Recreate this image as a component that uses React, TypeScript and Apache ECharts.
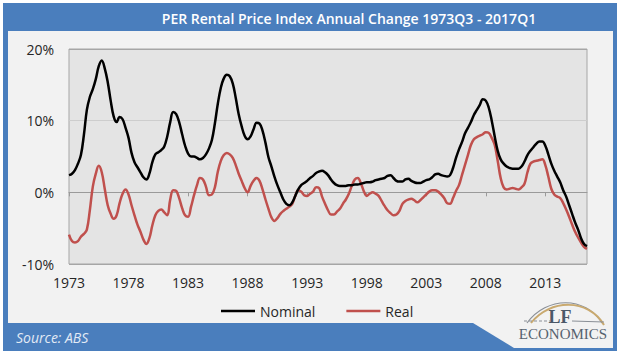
import React, { useEffect, useRef } from "react";
import * as echarts from "echarts";

const startYear = 1973;
const startQuarter = 3;
const tickLabels = ["1973", "1978", "1983", "1988", "1993", "1998", "2003", "2008", "2013"];

const nominal = [
  2.4, 2.6, 3.1, 4.0, 5.2, 8.0, 11.5, 13.3, 14.4, 15.8,
  17.6, 18.4, 17.3, 15.4, 12.8, 10.6, 9.8, 10.5, 10.2, 9.0,
  7.6, 5.5, 4.2, 3.5, 2.8, 2.1, 1.8, 2.6, 4.2, 5.3,
  5.6, 5.9, 6.4, 7.8, 9.8, 11.2, 10.9, 9.8, 8.1, 6.5,
  5.4, 5.0, 5.0, 4.8, 4.6, 4.8, 5.3, 6.1, 7.3, 9.6,
  12.4, 14.6, 15.9, 16.4, 16.2, 15.2, 13.2, 10.9, 9.2, 7.9,
  7.4, 7.8, 8.8, 9.7, 9.6, 8.6, 6.9, 4.9, 3.6, 2.2,
  1.0, 0.0, -1.0, -1.6, -1.8, -1.4, -0.5, 0.4, 1.0, 1.3,
  1.6, 2.0, 2.3, 2.7, 2.9, 3.0, 2.8, 2.4, 1.8, 1.3,
  1.0, 0.9, 0.9, 0.9, 1.0, 1.0, 1.1, 1.1, 1.2, 1.3,
  1.4, 1.4, 1.5, 1.7, 1.8, 1.9, 2.0, 2.3, 2.4, 2.0,
  1.6, 1.5, 1.5, 1.8, 1.9, 1.6, 1.4, 1.3, 1.3, 1.5,
  1.7, 1.8, 2.1, 2.5, 2.6, 2.4, 2.3, 2.2, 2.4, 3.4,
  4.8, 6.0, 7.0, 8.2, 9.0, 9.8, 10.8, 11.5, 12.2, 13.0,
  12.8, 11.8, 10.0, 7.8, 5.8, 4.6, 4.0, 3.6, 3.4, 3.3,
  3.3, 3.3, 3.6, 4.3, 5.2, 5.8, 6.3, 6.8, 7.1, 7.1,
  6.5, 5.3, 4.0, 3.0, 2.2, 1.4, 0.3, -0.6, -1.8, -3.0,
  -4.2, -5.2, -6.4, -7.2, -7.5,
];

const real = [
  -5.9, -6.8, -7.0, -6.8, -6.2, -5.8, -5.2, -2.5, 0.8, 2.6,
  3.7, 2.8, 0.5, -1.8, -3.0, -3.7, -3.2, -1.5, -0.2, 0.4,
  -0.3, -1.8, -3.2, -4.5, -5.5, -6.6, -7.2, -6.4, -4.6, -3.2,
  -2.6, -2.4, -2.8, -3.2, -1.0, 0.3, 0.2, -0.8, -2.2, -3.2,
  -3.4, -2.0, -0.4, 1.0, 2.0, 1.8, 0.8, -0.4, -0.3, 0.7,
  2.9, 4.4, 5.2, 5.5, 5.3, 4.8, 3.8, 2.6, 1.6, 0.6,
  0.0, 0.9, 1.6, 2.0, 1.6, 0.4, -1.0, -2.3, -3.5, -4.0,
  -3.6, -3.0, -2.6, -2.3, -2.0, -1.6, -0.5, 0.3, 0.1, -0.4,
  -0.5, -0.2, 0.1, 0.7, 0.6, -0.6, -1.6, -2.5, -3.1, -3.1,
  -2.7, -2.3, -1.6, -1.0, -0.2, 0.9, 1.8, 2.0, 1.3, 0.2,
  -0.5, -0.2, 0.0, -0.2, -0.5, -1.2, -1.9, -2.5, -2.9, -3.2,
  -3.1, -2.6, -1.6, -1.2, -1.0, -0.9, -1.1, -1.4, -1.1, -0.7,
  -0.3, 0.1, 0.3, 0.3, 0.1, -0.3, -0.8, -1.5, -1.6, -0.8,
  0.2, 1.0, 2.4, 3.8, 5.2, 6.6, 7.4, 7.7, 7.9, 8.1,
  8.4, 8.3, 7.6, 6.6, 4.4, 2.0, 0.7, 0.4, 0.5, 0.6,
  0.5, 0.4, 0.7, 1.2, 2.8, 4.0, 4.3, 4.4, 4.5, 4.6,
  3.8, 2.2, 0.5, -0.3, -0.6, -0.8, -1.5, -2.4, -3.4, -4.5,
  -5.5, -6.3, -7.0, -7.6, -7.9,
];

const categories: string[] = nominal.map((_, i) => {
  const q = startQuarter - 1 + i;
  return `${startYear + Math.floor(q / 4)}Q${(q % 4) + 1}`;
});

const BLUE = "#4a7ebd";
const FONT = "'Open Sans', 'Noto Sans', sans-serif";

export default function App() {
  const ref = useRef<HTMLDivElement>(null);
  useEffect(() => {
    if (!ref.current) return;
    const chart = echarts.init(ref.current, undefined, { renderer: "svg" });
    const labelFor = (v: string) => {
      const y = v.slice(0, 4);
      return tickLabels.includes(y) ? y : "";
    };
    chart.setOption({
      animation: false,
      backgroundColor: "#ffffff",
      textStyle: { fontFamily: FONT },
      grid: {
        left: 69,
        top: 49,
        width: 518,
        height: 215,
        show: true,
        backgroundColor: "#e4e4e4",
        borderColor: "#a6a6a6",
        borderWidth: 1,
      },
      legend: {
        data: ["Nominal", "Real"],
        left: 216,
        top: 299,
        icon: "rect",
        itemWidth: 34,
        itemHeight: 2.5,
        itemGap: 31,
        textStyle: { fontSize: 14, color: "#262626", fontFamily: FONT },
      },
      xAxis: [
        {
          type: "category",
          data: categories,
          boundaryGap: false,
          axisLine: { show: false, onZero: false },
          axisTick: { show: false },
          splitLine: { show: false },
          axisLabel: {
            interval: 19,
            formatter: labelFor,
            fontSize: 14,
            color: "#262626",
            margin: 11,
            fontFamily: FONT,
          },
        },
        {
          type: "category",
          data: categories,
          boundaryGap: false,
          position: "bottom",
          axisLine: { show: true, onZero: true, lineStyle: { color: "#9a9a9a", width: 1 } },
          axisTick: { show: true, interval: 19, length: 4, lineStyle: { color: "#9a9a9a" } },
          axisLabel: { show: false },
          splitLine: { show: false },
        },
      ],
      yAxis: {
        type: "value",
        min: -10,
        max: 20,
        interval: 10,
        axisLine: { show: false },
        axisTick: { show: false },
        axisLabel: {
          formatter: "{value}%",
          fontSize: 14,
          color: "#262626",
          margin: 15,
          fontFamily: FONT,
        },
        splitLine: {
          show: true,
          lineStyle: { color: ["#a6a6a6", "#9a9a9a", "#cdcdcd", "#a6a6a6"], width: 1 },
        },
      },
      series: [
        {
          name: "Nominal",
          type: "line",
          data: nominal,
          xAxisIndex: 0,
          symbol: "none",
          smooth: 0.4,
          lineStyle: { color: "#000000", width: 2.5 },
          itemStyle: { color: "#000000" },
          z: 3,
        },
        {
          name: "Real",
          type: "line",
          data: real,
          xAxisIndex: 0,
          symbol: "none",
          smooth: 0.4,
          lineStyle: { color: "#c0504d", width: 2.5 },
          itemStyle: { color: "#c0504d" },
          z: 2,
        },
      ],
      graphic: [
        { type: "rect", z: -20, shape: { x: 3, y: 3, width: 614, height: 348 }, style: { fill: BLUE } },
        { type: "rect", z: -19, shape: { x: 8, y: 31, width: 605, height: 317 }, style: { fill: "#f2f2f2" } },
        {
          type: "polygon",
          z: -18,
          shape: { points: [[8, 323], [473, 323], [514, 348], [8, 348]] },
          style: { fill: BLUE },
        },
        {
          type: "text",
          z: 10,
          x: 349,
          y: 18,
          style: {
            text: "PER Rental Price Index Annual Change 1973Q3 - 2017Q1",
            fill: "#ffffff",
            fontSize: 14,
            fontWeight: 600,
            fontFamily: FONT,
            textAlign: "center",
            textVerticalAlign: "middle",
          },
        },
        {
          type: "text",
          z: 10,
          x: 16,
          y: 337,
          style: {
            text: "Source: ABS",
            fill: "#e2eaf5",
            fontSize: 14,
            fontStyle: "italic",
            fontFamily: FONT,
            textAlign: "left",
            textVerticalAlign: "middle",
          },
        },
        {
          type: "bezierCurve",
          z: 10,
          shape: { x1: 527, y1: 323, x2: 602, y2: 323, cpx1: 547, cpy1: 296, cpx2: 585, cpy2: 296 },
          style: { stroke: "#8a8f96", lineWidth: 1.2, fill: null },
        },
        {
          type: "bezierCurve",
          z: 10,
          shape: { x1: 531, y1: 323, x2: 604, y2: 325, cpx1: 550, cpy1: 299, cpx2: 588, cpy2: 298 },
          style: { stroke: "#c9a96e", lineWidth: 2, fill: null },
        },
        {
          type: "line",
          z: 10,
          shape: { x1: 524, y1: 321, x2: 550, y2: 321 },
          style: { stroke: "#8a8f96", lineWidth: 1, lineDash: [3, 2] },
        },
        {
          type: "line",
          z: 10,
          shape: { x1: 572, y1: 321, x2: 604, y2: 322 },
          style: { stroke: "#8a8f96", lineWidth: 1 },
        },
        {
          type: "text",
          z: 11,
          x: 560,
          y: 317,
          style: {
            text: "LF",
            fill: "#4b5868",
            fontSize: 18,
            fontWeight: "bold",
            fontFamily: "'Liberation Serif', 'DejaVu Serif', serif",
            textAlign: "center",
            textVerticalAlign: "middle",
          },
        },
        {
          type: "text",
          z: 11,
          x: 563,
          y: 334,
          style: {
            text: "ECONOMICS",
            fill: "#56626f",
            fontSize: 15,
            fontFamily: "'Liberation Serif', 'DejaVu Serif', serif",
            textAlign: "center",
            textVerticalAlign: "middle",
          },
        },
      ],
    });
    return () => chart.dispose();
  }, []);
  return (
    <div
      ref={ref}
      style={{ position: "absolute", left: 0, top: 0, width: 620, height: 354 }}
    />
  );
}
